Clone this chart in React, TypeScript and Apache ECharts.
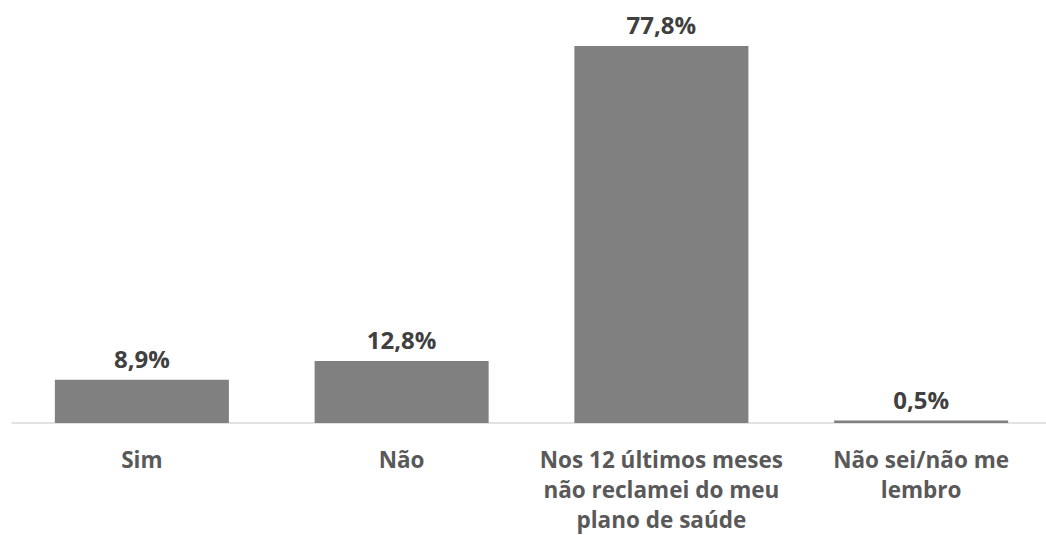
import React, { useEffect, useRef } from "react";
import * as echarts from "echarts";

const categories = [
  "Sim",
  "Não",
  "Nos 12 últimos meses\nnão reclamei do meu\nplano de saúde",
  "Não sei/não me\nlembro",
];
const values = [8.9, 12.8, 77.8, 0.5];

export default function App() {
  const ref = useRef<HTMLDivElement>(null);
  useEffect(() => {
    document.body.style.margin = "0";
    const chart = echarts.init(ref.current!, null, { renderer: "svg" });
    chart.setOption({
      animation: false,
      grid: {
        left: 12,
        width: 1039,
        top: 35.3,
        bottom: 112,
        containLabel: false,
        outerBoundsMode: "none",
      },
      xAxis: {
        type: "category",
        data: categories,
        axisLine: { lineStyle: { color: "#d9d9d9", width: 1.5 } },
        axisTick: { show: false },
        axisLabel: {
          interval: 0,
          margin: 22,
          fontFamily: "Open Sans",
          fontWeight: "bold",
          fontSize: 22.5,
          lineHeight: 29.8,
          color: "#595959",
          verticalAlign: "top",
        },
      },
      yAxis: {
        type: "value",
        min: 0,
        max: 80,
        show: false,
        splitLine: { show: false },
      },
      series: [
        {
          type: "bar",
          data: values,
          barCategoryGap: "33%",
          itemStyle: { color: "#808080" },
          label: {
            show: true,
            position: "top",
            distance: 9,
            formatter: (p: any) => p.value.toFixed(1).replace(".", ",") + "%",
            fontFamily: "Open Sans",
            fontWeight: "bold",
            fontSize: 24,
            color: "#404040",
          },
        },
      ],
    });
    return () => chart.dispose();
  }, []);
  return <div ref={ref} style={{ width: 1046, height: 535 }} />;
}
